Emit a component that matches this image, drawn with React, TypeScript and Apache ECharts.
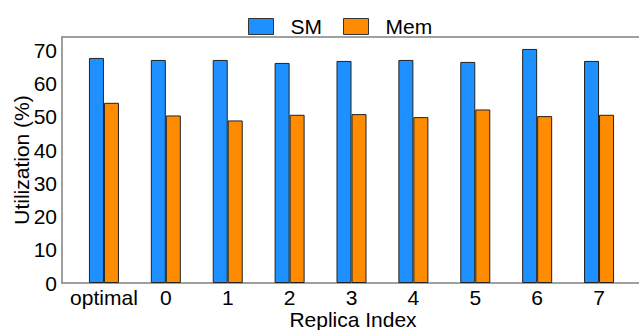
import React, { useEffect, useRef } from "react";
import * as echarts from "echarts";

const categories = ["optimal", "0", "1", "2", "3", "4", "5", "6", "7"];
const smValues = [67.7, 67.1, 67.1, 66.2, 66.8, 67.1, 66.5, 70.4, 66.8];
const memValues = [54.2, 50.4, 48.9, 50.6, 50.8, 49.9, 52.2, 50.2, 50.6];
const yTicks = [0, 10, 20, 30, 40, 50, 60, 70];

const FONT = "Liberation Sans, Arial, sans-serif";
const FS = 21;

export default function App() {
  const ref = useRef<HTMLDivElement>(null);
  useEffect(() => {
    if (!ref.current) return;
    const chart = echarts.init(ref.current, undefined, { renderer: "svg" });
    const axisColor = "#808080";
    chart.setOption({
      animation: false,
      backgroundColor: "#ffffff",
      textStyle: { fontFamily: FONT },
      legend: {
        left: 248,
        top: 16,
        itemWidth: 25,
        itemHeight: 16,
        itemGap: 21,
        padding: 0,
        icon: "rect",
        itemStyle: { borderColor: "#333", borderWidth: 1 },
        textStyle: { fontSize: FS, color: "#000", fontFamily: FONT, padding: [0, 0, 0, 12] },
        data: ["SM", "Mem"],
      },
      grid: [
        { left: 62, right: -5, top: 37, bottom: 47, containLabel: false, outerBoundsMode: "none" },
        { left: 73, width: 557, top: 37, bottom: 47, containLabel: false, outerBoundsMode: "none" },
      ],
      xAxis: [
        {
          type: "value",
          gridIndex: 0,
          min: 0,
          max: 1,
          name: "Replica Index",
          nameLocation: "middle",
          nameGap: 26,
          nameTextStyle: { fontSize: FS, lineHeight: 21, color: "#000", fontFamily: FONT },
          axisLine: { show: true, lineStyle: { color: axisColor, width: 1.5 } },
          axisTick: { show: false },
          axisLabel: { show: false },
          splitLine: { show: false },
        },
        {
          type: "value",
          gridIndex: 0,
          position: "top",
          min: 0,
          max: 1,
          axisLine: { show: true, lineStyle: { color: axisColor, width: 1.5 } },
          axisTick: { show: false },
          axisLabel: { show: false },
          splitLine: { show: false },
        },
        {
          type: "category",
          gridIndex: 1,
          data: categories,
          boundaryGap: true,
          axisLine: { show: false },
          axisTick: { show: false },
          axisLabel: {
            fontSize: FS,
            lineHeight: 21,
            color: "#000",
            margin: 4,
            interval: 0,
            fontFamily: FONT,
          },
          splitLine: { show: false },
        },
      ],
      yAxis: [
        {
          type: "value",
          gridIndex: 0,
          min: 0,
          max: 74,
          interval: 10,
          name: "Utilization (%)",
          nameLocation: "middle",
          nameGap: 30,
          nameMoveOverlap: false,
          nameTextStyle: { fontSize: FS, lineHeight: 21, color: "#000", fontFamily: FONT },
          axisLine: { show: true, lineStyle: { color: axisColor, width: 1.5 } },
          axisTick: { show: false },
          axisLabel: {
            fontSize: FS,
            color: "#000",
            margin: 5,
            fontFamily: FONT,
            formatter: (v: number) => (yTicks.includes(v) ? String(v) : ""),
          },
          splitLine: { show: false },
        },
        {
          type: "value",
          gridIndex: 1,
          min: 0,
          max: 74,
          show: false,
          splitLine: { show: false },
        },
      ],
      series: [
        {
          name: "SM",
          type: "bar",
          xAxisIndex: 2,
          yAxisIndex: 1,
          data: smValues,
          barWidth: 15,
          barGap: "0%",
          itemStyle: { color: "#1E90FF", borderColor: "#222", borderWidth: 1 },
        },
        {
          name: "Mem",
          type: "bar",
          xAxisIndex: 2,
          yAxisIndex: 1,
          data: memValues,
          barWidth: 15,
          barGap: "0%",
          itemStyle: { color: "#FF8C00", borderColor: "#222", borderWidth: 1 },
        },
      ],
    });
    return () => chart.dispose();
  }, []);
  return (
    <div
      ref={ref}
      style={{ position: "fixed", left: 0, top: 0, width: 639, height: 330 }}
    />
  );
}
